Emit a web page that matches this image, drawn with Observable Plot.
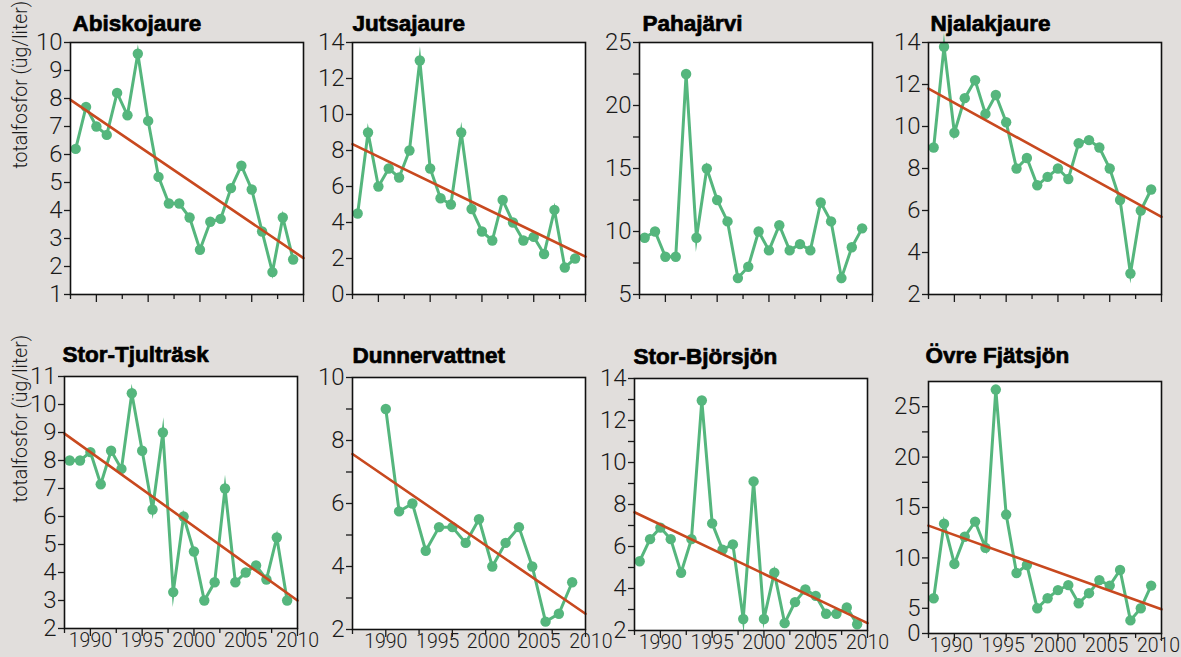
<!DOCTYPE html>
<html><head><meta charset="utf-8">
<script src="https://cdn.jsdelivr.net/npm/d3@7"></script>
<script src="https://cdn.jsdelivr.net/npm/@observablehq/plot@0.6"></script>
<style>
html,body{margin:0;padding:0;background:#e1dedc;}
#chart{position:relative;width:1181px;height:657px;overflow:hidden;background:#e1dedc;}
#chart svg{position:absolute;overflow:visible;}
</style></head><body><div id="chart"></div>
<script>
// ---- data ----
const years = [1988,1989,1990,1991,1992,1993,1994,1995,1996,1997,1998,1999,2000,2001,2002,2003,2004,2005,2006,2007,2008,2009];
const dunnerYears = [1990,1991,1992,1993,1994,1995,1996,1997,1998,1999,2000,2001,2002,2003,2004];

const abiskojaure   = [6.2,7.7,7.0,6.7,8.2,7.4,9.6,7.2,5.2,4.25,4.25,3.75,2.6,3.6,3.7,4.8,5.6,4.75,3.25,1.8,3.75,2.25];
const jutsajaure    = [4.5,9.0,6.0,7.0,6.5,8.0,13.0,7.0,5.35,5.0,9.0,4.75,3.5,3.0,5.25,4.0,3.0,3.2,2.25,4.7,1.5,2.0];
const pahajarvi     = [9.5,10.0,8.0,8.0,22.5,9.5,15.0,12.5,10.8,6.3,7.2,10.0,8.5,10.5,8.5,9.0,8.5,12.3,10.8,6.3,8.75,10.25];
const njalakjaure   = [9.0,13.8,9.7,11.35,12.2,10.6,11.5,10.2,8.0,8.5,7.2,7.6,8.0,7.5,9.2,9.35,9.0,8.0,6.5,3.0,6.0,7.0];
const storTjultrask = [8.0,8.0,8.3,7.15,8.35,7.7,10.4,8.35,6.25,9.0,3.3,6.0,4.75,3.0,3.65,7.0,3.65,4.0,4.25,3.75,5.25,3.0];
const dunnervattnet = [9.0,5.75,6.0,4.5,5.25,5.25,4.75,5.5,4.0,4.75,5.25,4.0,2.25,2.5,3.5];
const storBjorsjon  = [5.3,6.35,6.9,6.35,4.75,6.35,12.95,7.1,5.85,6.1,2.55,9.1,2.55,4.75,2.35,3.35,3.95,3.65,2.8,2.8,3.1,2.3];
const ovreFjatsjon  = [6.0,13.4,9.4,12.1,13.6,11.0,26.7,14.3,8.5,9.3,5.0,6.0,6.8,7.3,5.5,6.5,7.8,7.25,8.8,3.8,5.0,7.25];

// trend line values at the left and right edge of each panel
const abiskojaureTrend   = [7.95, 2.3];
const jutsajaureTrend    = [8.35, 2.1];
const njalakjaureTrend   = [11.8, 5.7];
const storTjultraskTrend = [8.96, 3.0];
const dunnervattnetTrend = [7.57, 2.5];
const storBjorsjonTrend  = [7.63, 2.35];
const ovreFjatsjonTrend  = [13.2, 4.9];

// x axis
const xDomain = [1987.5, 2010];
const dunnerXDomain = [1987.5, 2005];
const xMajorTicks = [1990,1995,2000,2005,2010];
const xMinorTicks = [1987.5,1992.5,1997.5,2002.5,2007.5];
const dunnerXMajorTicks = [1990,1995,2000,2005];
const dunnerXMinorTicks = [1987.5,1992.5,1997.5,2002.5];
const xTickLabels = ["1990","1995","2000","2005","2010"];
const dunnerXLabelAt = [1990,1993.9,1997.7,2001.5,2005.4];

// y axes
const abiskojaureTicks   = [1,2,3,4,5,6,7,8,9,10];
const jutsajaureTicks    = [0,2,4,6,8,10,12,14];
const pahajarviTicks     = [5,10,15,20,25];
const pahajarviMinor     = [7.5,12.5,17.5,22.5];
const njalakjaureTicks   = [2,4,6,8,10,12,14];
const storTjultraskTicks = [2,3,4,5,6,7,8,9,10,11];
const dunnervattnetTicks = [2,4,6,8,10];
const dunnervattnetMinor = [3,5,7,9];
const storBjorsjonTicks  = [2,4,6,8,10,12,14];
const storBjorsjonMinor  = [3,5,7,9,11,13];
const ovreFjatsjonTicks  = [2.5,5,10,15,20,25];
const ovreFjatsjonTickLabels = ["0","5","10","15","20","25"];
const ovreFjatsjonMinor  = [7.5,12.5,17.5,22.5];

const yTitle = "totalfosfor (üg/liter)";

// ---- styling / layout ----
const GREEN = "#55b67d";
const RED = "#c8491f";
const FONT = "Roboto, 'Liberation Sans', sans-serif";
const W = 233, H = 252;
const mL = 75, mT = 45, mR = 25, mB = 40;

const panels = [
  {name:"Abiskojaure", x:years, y:abiskojaure, trend:abiskojaureTrend, yDomain:[1,10], yTicks:abiskojaureTicks, yMinor:[], left:70, top:42, yTitle:true, xLabels:false, tdy:-12, tdx:2},
  {name:"Jutsajaure", x:years, y:jutsajaure, trend:jutsajaureTrend, yDomain:[0,14], yTicks:jutsajaureTicks, yMinor:[], left:352, top:42, tdy:-12, tdx:0},
  {name:"Pahajärvi", x:years, y:pahajarvi, trend:null, yDomain:[5,25], yTicks:pahajarviTicks, yMinor:pahajarviMinor, left:639, top:42, tdy:-12, tdx:3},
  {name:"Njalakjaure", x:years, y:njalakjaure, trend:njalakjaureTrend, yDomain:[2,14], yTicks:njalakjaureTicks, yMinor:[], left:928, top:42, tdy:-12, tdx:2},
  {name:"Stor-Tjulträsk", x:years, y:storTjultrask, trend:storTjultraskTrend, yDomain:[2,11], yTicks:storTjultraskTicks, yMinor:[], left:64, top:376, yTitle:true, xLabels:true, tdy:-15, tdx:-2, ldx:0},
  {name:"Dunnervattnet", x:dunnerYears, y:dunnervattnet, trend:dunnervattnetTrend, yDomain:[2,10], yTicks:dunnervattnetTicks, yMinor:dunnervattnetMinor, left:352, top:377, xLabels:true, dunner:true, tdy:-15, tdx:0, ldx:0},
  {name:"Stor-Björsjön", x:years, y:storBjorsjon, trend:storBjorsjonTrend, yDomain:[2,14], yTicks:storBjorsjonTicks, yMinor:storBjorsjonMinor, left:634, top:378, xLabels:true, tdy:-15, tdx:-1, ldx:0},
  {name:"Övre Fjätsjön", x:years, y:ovreFjatsjon, trend:ovreFjatsjonTrend, yDomain:[2.5,27.5], yTicks:ovreFjatsjonTicks, yTickLabels:ovreFjatsjonTickLabels, yMinor:ovreFjatsjonMinor, left:928, top:381, xLabels:true, tdy:-19, tdx:-3, ldx:-3}
];

const chart = document.getElementById("chart");

for (const p of panels) {
  const xd = p.dunner ? dunnerXDomain : xDomain;
  const rows = p.x.map((yr, i) => ({year: yr, value: p.y[i]}));
  const fmtMap = p.yTickLabels ? new Map(p.yTicks.map((v, i) => [v, p.yTickLabels[i]])) : null;
  const marks = [
    Plot.frame({fill: "white"}),
    Plot.axisX({ticks: p.dunner ? dunnerXMinorTicks : xMinorTicks, tickSize: 5, tickFormat: () => "", label: null, strokeWidth: 1.3}),
    Plot.axisX({ticks: p.dunner ? dunnerXMajorTicks : xMajorTicks, tickSize: 8, tickFormat: () => "", label: null, strokeWidth: 1.3}),
    Plot.axisY({ticks: p.yTicks, tickSize: 6, tickPadding: 2, fontSize: 24, letterSpacing: "-0.5px", label: null, strokeWidth: 1.3,
      tickFormat: fmtMap ? (d) => fmtMap.get(d) : (d) => String(d)})
  ];
  if (p.yMinor.length) marks.push(Plot.axisY({ticks: p.yMinor, tickSize: 6, tickFormat: () => "", label: null, strokeWidth: 1.3}));
  marks.push(
    Plot.line(rows, {x: "year", y: "value", stroke: GREEN, strokeWidth: 3, strokeLinejoin: "miter", strokeMiterlimit: 12}),
    Plot.dot(rows, {x: "year", y: "value", r: 5.2, fill: GREEN, stroke: null})
  );
  if (p.trend) {
    marks.push(Plot.line([{year: xd[0], value: p.trend[0]}, {year: xd[1], value: p.trend[1]}],
      {x: "year", y: "value", stroke: RED, strokeWidth: 2.6}));
  }
  marks.push(Plot.frame({stroke: "#111", strokeWidth: 1.6}));
  if (p.xLabels) {
    marks.push(Plot.text(xTickLabels, {
      x: p.dunner ? dunnerXLabelAt : xMajorTicks, text: xTickLabels,
      frameAnchor: "bottom", lineAnchor: "top", dy: 5, dx: p.ldx, fontSize: 19.5, letterSpacing: "-1.3px", fill: "#1a1a1a"
    }));
  }
  if (p.yTitle) {
    marks.push(Plot.text([yTitle], {frameAnchor: "left", rotate: -90, dx: 20 - p.left, fontSize: 19.5, fill: "#1a1a1a"}));
  }
  marks.push(Plot.text([p.name], {
    frameAnchor: "top-left", textAnchor: "start", lineAnchor: "bottom", dy: p.tdy, dx: p.tdx,
    fontSize: 22.5, fontWeight: 700, fontFamily: "'Liberation Sans', Arial, sans-serif",
    fill: "#000", stroke: "#000", strokeWidth: 0.7
  }));

  const svg = Plot.plot({
    width: mL + W + mR,
    height: mT + H + mB,
    marginLeft: mL, marginRight: mR, marginTop: mT, marginBottom: mB,
    x: {domain: xd},
    y: {domain: p.yDomain},
    style: {background: "transparent", fontFamily: FONT, fontWeight: 300, color: "#1a1a1a", overflow: "visible"},
    marks
  });
  svg.style.left = (p.left - mL) + "px";
  svg.style.top = (p.top - mT) + "px";
  chart.appendChild(svg);
}
</script>
</body></html>
